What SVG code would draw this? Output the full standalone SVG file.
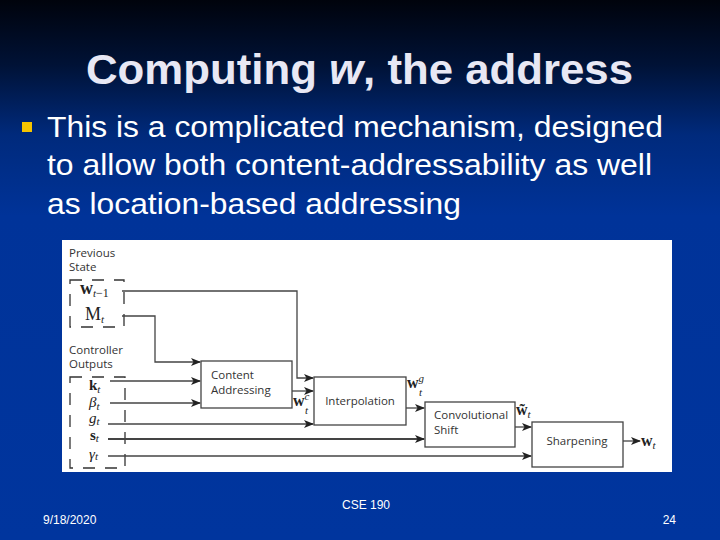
<svg xmlns="http://www.w3.org/2000/svg" width="720" height="540" viewBox="0 0 720 540">
<defs>
<linearGradient id="bg" x1="0" y1="0" x2="0" y2="1">
<stop offset="0" stop-color="#00030c"/>
<stop offset="0.12" stop-color="#001236"/>
<stop offset="0.25" stop-color="#002a7c"/>
<stop offset="0.4" stop-color="#003399"/>
<stop offset="1" stop-color="#00359e"/>
</linearGradient>
<marker id="ah" markerWidth="10" markerHeight="8" refX="9" refY="4" orient="auto" markerUnits="userSpaceOnUse">
<path d="M0,0 L10,4 L0,8 L2.5,4 Z" fill="#222"/>
</marker>
<style>
.title{font-family:"Liberation Sans",Arial,sans-serif;font-weight:bold;font-size:43px;fill:#e8e8f4}
.body{font-family:"Liberation Sans",Arial,sans-serif;font-size:30px;fill:#ffffff}
.foot{font-family:"Liberation Sans",Arial,sans-serif;font-size:12px;fill:#ffffff}
.lbl{font-family:"Open Sans","DejaVu Sans",sans-serif;font-size:11.5px;fill:#333}
.math{font-family:"Liberation Serif",serif;font-size:16px;fill:#222}
.ctl{font-size:15px}
.big{font-size:18px}
.b{font-weight:bold}
.i{font-style:italic}
.sub{font-size:11px;font-style:italic}
.box{fill:#fff;stroke:#444;stroke-width:1.3}
.ln{fill:none;stroke:#444;stroke-width:1.3}
.thick{fill:none;stroke:#444;stroke-width:2.2}
.dash{fill:none;stroke:#333;stroke-width:1.3;stroke-dasharray:12 10}
</style>
</defs>
<rect width="720" height="540" fill="url(#bg)"/>
<text class="title" x="86" y="84" textLength="547" lengthAdjust="spacingAndGlyphs">Computing <tspan font-style="italic">w</tspan>, the address</text>
<rect x="22" y="122" width="10" height="10" fill="#f5c400"/>
<text class="body" x="47" y="137" textLength="616" lengthAdjust="spacingAndGlyphs">This is a complicated mechanism, designed</text>
<text class="body" x="47" y="175" textLength="605" lengthAdjust="spacingAndGlyphs">to allow both content-addressability as well</text>
<text class="body" x="47" y="214" textLength="414" lengthAdjust="spacingAndGlyphs">as location-based addressing</text>
<rect x="62" y="240" width="610" height="232" fill="#ffffff"/>
<g id="prev-state">
<text class="lbl" x="69" y="257">Previous</text>
<text class="lbl" x="69" y="271">State</text>
<rect class="dash" x="70" y="280" width="54" height="47"/>
<text class="math big" x="80" y="294"><tspan class="b">w</tspan><tspan class="sub" dy="3">t</tspan><tspan font-size="12px">−1</tspan></text>
<text class="math big" x="85" y="320"><tspan>M</tspan><tspan class="sub" dy="3">t</tspan></text>
</g>
<g id="controller">
<text class="lbl" x="69" y="354">Controller</text>
<text class="lbl" x="69" y="368">Outputs</text>
<rect class="dash" x="70" y="377" width="55" height="91"/>
<text class="math ctl" x="89" y="390"><tspan class="b">k</tspan><tspan class="sub" dy="3">t</tspan></text>
<text class="math ctl" x="89" y="407"><tspan class="i">β</tspan><tspan class="sub" dy="3">t</tspan></text>
<text class="math ctl" x="89" y="423"><tspan class="i">g</tspan><tspan class="sub" dy="2">t</tspan></text>
<text class="math ctl" x="90" y="440"><tspan class="b">s</tspan><tspan class="sub" dy="2">t</tspan></text>
<text class="math ctl" x="89" y="459"><tspan class="i">γ</tspan><tspan class="sub" dy="1">t</tspan></text>
</g>
<g id="content-addressing">
<rect class="box" x="201" y="361" width="91" height="47"/>
<text class="lbl" x="211" y="379">Content</text>
<text class="lbl" x="211" y="394">Addressing</text>
</g>
<g id="interpolation">
<rect class="box" x="314" y="377" width="92" height="48"/>
<text class="lbl" x="360" y="405" text-anchor="middle">Interpolation</text>
</g>
<g id="conv-shift">
<rect class="box" x="425" y="402" width="90" height="45"/>
<text class="lbl" x="434" y="419">Convolutional</text>
<text class="lbl" x="434" y="434">Shift</text>
</g>
<g id="sharpening">
<rect class="box" x="532" y="422" width="91" height="45"/>
<text class="lbl" x="577" y="445" text-anchor="middle">Sharpening</text>
</g>
<g id="connectors">
<path class="ln" d="M122,291 H297 V378 H313" marker-end="url(#ah)"/>
<path class="ln" d="M122,316 H155 V362 H200" marker-end="url(#ah)"/>
<path class="ln" d="M110,381 H200" marker-end="url(#ah)"/>
<path class="ln" d="M110,403 H200" marker-end="url(#ah)"/>
<path class="ln" d="M108,424 H313" marker-end="url(#ah)"/>
<path class="thick" d="M108,439 H424" marker-end="url(#ah)"/>
<path class="ln" d="M108,456 H531" marker-end="url(#ah)"/>
<path class="ln" d="M292,391 H313" marker-end="url(#ah)"/>
<path class="ln" d="M406,408 H424" marker-end="url(#ah)"/>
<path class="ln" d="M515,427 H531" marker-end="url(#ah)"/>
<path class="ln" d="M623,441 H640" marker-end="url(#ah)"/>
<text class="math" x="293" y="406"><tspan class="b">w</tspan><tspan class="sub" dy="-6">c</tspan></text>
<text class="math" x="305" y="414"><tspan class="sub">t</tspan></text>
<text class="math" x="407" y="388"><tspan class="b">w</tspan><tspan class="sub" dy="-6">g</tspan></text>
<text class="math" x="419" y="396"><tspan class="sub">t</tspan></text>
<text class="math" x="516" y="415"><tspan class="b">w̃</tspan><tspan class="sub" dy="3">t</tspan></text>
<text class="math" x="641" y="446"><tspan class="b">w</tspan><tspan class="sub" dy="3">t</tspan></text>
</g>
<text class="foot" x="366" y="509" text-anchor="middle">CSE 190</text>
<text class="foot" x="43" y="524">9/18/2020</text>
<text class="foot" x="676" y="524" text-anchor="end">24</text>
</svg>
